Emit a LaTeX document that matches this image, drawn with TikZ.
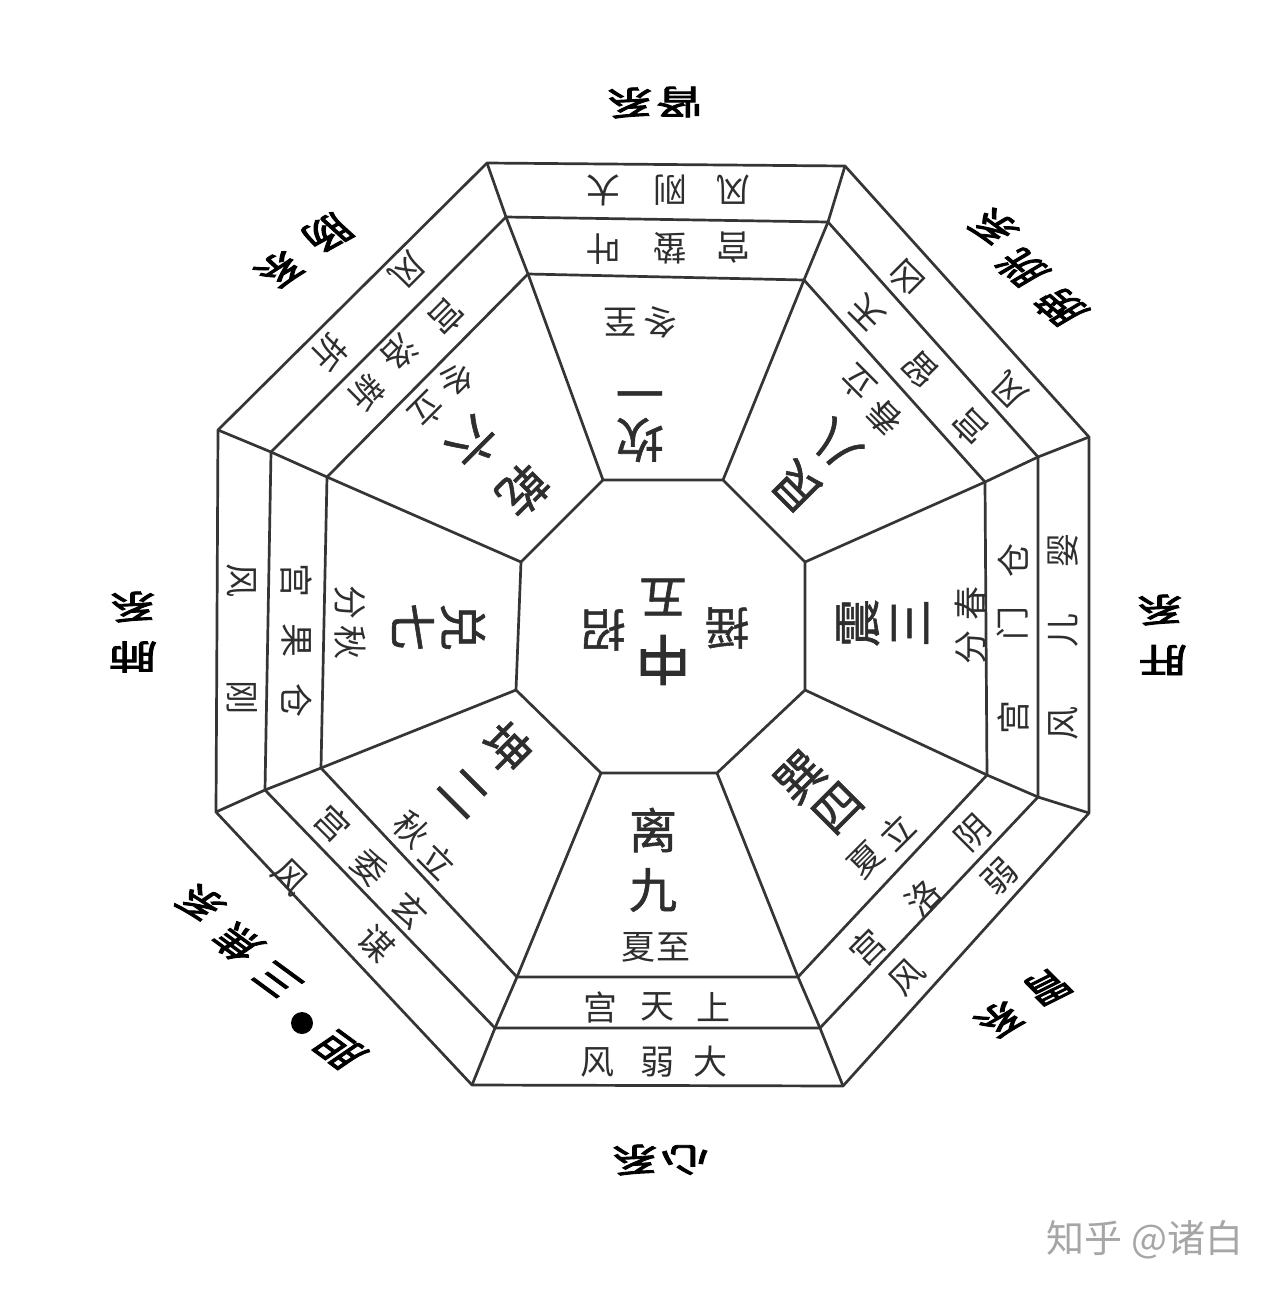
\documentclass[tikz,border=0pt]{standalone}
\usepackage{fontspec}
\newfontfamily\cjk{Noto Sans CJK SC}
\newfontfamily\cjkm[FakeBold=1.2]{Noto Sans CJK SC}
\newfontfamily\cjkb[FakeBold=2.5]{Noto Sans CJK SC}
\definecolor{linec}{HTML}{353535}
\definecolor{txt}{HTML}{2E2E2E}
\begin{document}
\begin{tikzpicture}[x=1pt,y=-1pt,
  frame/.style={draw=linec,line width=2.7pt,line join=round},
  ring/.style={font=\cjk\fontsize{34}{34}\selectfont,text=txt,inner sep=0pt},
  big/.style={font=\cjkm\fontsize{48}{48}\selectfont,text=txt,inner sep=0pt},
  mid/.style={font=\cjkm\fontsize{45}{45}\selectfont,text=txt,inner sep=0pt},
  outer/.style={font=\cjkb\fontsize{40}{40}\selectfont,text=black,inner sep=0pt,xscale=1.2,yscale=0.85},
  wm/.style={font=\cjk\fontsize{38}{38}\selectfont,text=black!35,inner sep=0pt}]
\fill[white] (0,0) rectangle (1279,1291);
\useasboundingbox (0,0) rectangle (1279,1291);
% outer octagon
\coordinate (O1) at (487,163); \coordinate (O2) at (845,166);
\coordinate (O3) at (1089,437); \coordinate (O4) at (1089,813);
\coordinate (O5) at (843,1086); \coordinate (O6) at (472,1085);
\coordinate (O7) at (216,812); \coordinate (O8) at (218,430);
% second ring
\coordinate (S1) at (506,217); \coordinate (S2) at (828,222);
\coordinate (S3) at (1038,457); \coordinate (S4) at (1038,797);
\coordinate (S5) at (820,1028); \coordinate (S6) at (495,1028);
\coordinate (S7) at (265,790); \coordinate (S8) at (271,452);
% third ring
\coordinate (T1) at (528,274); \coordinate (T2) at (804,280);
\coordinate (T3) at (985,482); \coordinate (T4) at (987,775);
\coordinate (T5) at (798,977); \coordinate (T6) at (517,977);
\coordinate (T7) at (321,768); \coordinate (T8) at (327,477);
% centre octagon
\coordinate (C1) at (603,480); \coordinate (C2) at (723,480);
\coordinate (C3) at (805,562); \coordinate (C4) at (805,690);
\coordinate (C5) at (717,773); \coordinate (C6) at (601,773);
\coordinate (C7) at (516,690); \coordinate (C8) at (521,562);
\draw[frame] (O1)--(O2)--(O3)--(O4)--(O5)--(O6)--(O7)--(O8)--cycle;
\draw[frame] (S1)--(S2)--(S3)--(S4)--(S5)--(S6)--(S7)--(S8)--cycle;
\draw[frame] (T1)--(T2)--(T3)--(T4)--(T5)--(T6)--(T7)--(T8)--cycle;
\draw[frame] (C1)--(C2)--(C3)--(C4)--(C5)--(C6)--(C7)--(C8)--cycle;
\foreach \i in {1,...,8}{\draw[frame] (C\i)--(T\i)--(S\i)--(O\i);}
% north group (rotated 180)
\foreach \t/\x/\y [count=\k] in {大/603/190,刚/670/190,风/733/190,叶/603/249,蛰/670/248,宫/733/248,至/620/322,冬/660/322}
  {\node[ring,rotate=180] (na\k) at (\x,\y) {\t};}
\foreach \t/\x/\y [count=\k] in {一/640/385,坎/640/440}
  {\node[big,rotate=180] (nb\k) at (\x,\y) {\t};}
% north-east group (rotated 135)
\foreach \t/\x/\y [count=\k] in {凶/907/278,风/1010/390,天/867/313,留/920/370,宫/970/427,立/858/383,春/884/418}
  {\node[ring,rotate=135] (nea\k) at (\x,\y) {\t};}
\foreach \t/\x/\y [count=\k] in {八/836/445,艮/797/487}
  {\node[big,rotate=135] (neb\k) at (\x,\y) {\t};}
% east group (rotated 90)
\foreach \t/\x/\y [count=\k] in {婴/1063/550,儿/1063/630,风/1063/723,仓/1013/560,门/1013/623,宫/1013/717,春/971/603,分/971/647}
  {\node[ring,rotate=90] (ea\k) at (\x,\y) {\t};}
\foreach \t/\x/\y [count=\k] in {震/858/623,三/910/623}
  {\node[big,rotate=90] (eb\k) at (\x,\y) {\t};}
% south-east group (rotated 45)
\foreach \t/\x/\y [count=\k] in {立/897/832,夏/866/860,阴/973/833,洛/923/897,宫/867/947,弱/1000/877,风/907/977}
  {\node[ring,rotate=45] (sea\k) at (\x,\y) {\t};}
\foreach \t/\x/\y [count=\k] in {巽/800/777,四/838/808}
  {\node[big,rotate=45] (seb\k) at (\x,\y) {\t};}
% south group (upright)
\foreach \t/\x/\y [count=\k] in {夏/638/947,至/673/947,宫/600/1007,天/657/1007,上/713/1007,风/597/1062,弱/657/1062,大/710/1062}
  {\node[ring] (sa\k) at (\x,\y) {\t};}
\foreach \t/\x/\y [count=\k] in {离/653/830,九/653/890}
  {\node[big] (sb\k) at (\x,\y) {\t};}
% south-west group (rotated -45)
\foreach \t/\x/\y [count=\k] in {秋/412/829,立/438/861,宫/333/823,委/370/867,玄/410/910,风/290/877,谋/377/943}
  {\node[ring,rotate=-45] (swa\k) at (\x,\y) {\t};}
\foreach \t/\x/\y [count=\k] in {坤/507/748,二/463/793}
  {\node[big,rotate=-45] (swb\k) at (\x,\y) {\t};}
% west group (rotated -90)
\foreach \t/\x/\y [count=\k] in {分/350/602,秋/350/642,宫/297/580,果/297/640,仓/297/700,风/242/580,刚/242/697}
  {\node[ring,rotate=-90] (wa\k) at (\x,\y) {\t};}
\foreach \t/\x/\y [count=\k] in {兑/463/627,七/413/627}
  {\node[big,rotate=-90] (wb\k) at (\x,\y) {\t};}
% north-west group (rotated -135)
\foreach \t/\x/\y [count=\k] in {风/407/270,折/330/353,宫/447/317,洛/400/353,新/367/393,冬/457/380,立/427/410}
  {\node[ring,rotate=-135] (nwa\k) at (\x,\y) {\t};}
\foreach \t/\x/\y [count=\k] in {六/473/443,乾/523/490}
  {\node[big,rotate=-135] (nwb\k) at (\x,\y) {\t};}
% centre
\node[big,rotate=180] (c1) at (663,597) {五};
\node[big,rotate=180,font=\cjkb\fontsize{54}{54}\selectfont] (c2) at (663,660) {中};
\node[mid,rotate=180] (c3) at (603,630) {招};
\node[mid,rotate=180] (c4) at (727,628) {摇};
% outer labels
\foreach \t/\x/\y [count=\k] in {系/630/103,肾/680/102}
  {\node[outer,rotate=180] (la\k) at (\x,\y) {\t};}
\foreach \t/\x/\y [count=\k] in {系/993/227,胱/1022/268,膀/1060/307}
  {\node[outer,rotate=130] (lb\k) at (\x,\y) {\t};}
\foreach \t/\x/\y [count=\k] in {系/1160/610,肝/1163/660}
  {\node[outer,rotate=180] (lc\k) at (\x,\y) {\t};}
\foreach \t/\x/\y [count=\k] in {胃/1047/987,系/1000/1020}
  {\node[outer,rotate=215] (ld\k) at (\x,\y) {\t};}
\foreach \t/\x/\y [count=\k] in {系/635/1160,心/685/1160}
  {\node[outer,rotate=180] (le\k) at (\x,\y) {\t};}
\foreach \t/\x/\y [count=\k] in {系/200/903,焦/237/943,三/277/980,胆/340/1050}
  {\node[outer,rotate=134] (lf\k) at (\x,\y) {\t};}
\node[circle,fill=black,inner sep=0pt,minimum size=22pt] (dot) at (302,1023) {};
\foreach \t/\x/\y [count=\k] in {系/133/607,肺/133/657}
  {\node[outer,rotate=180] (lg\k) at (\x,\y) {\t};}
\foreach \t/\x/\y [count=\k] in {肠/327/233,系/280/270}
  {\node[outer,rotate=218] (lh\k) at (\x,\y) {\t};}
% watermark
\node[wm] (wmk) at (1145,1240) {知乎 @诸白};
\end{tikzpicture}
\end{document}
